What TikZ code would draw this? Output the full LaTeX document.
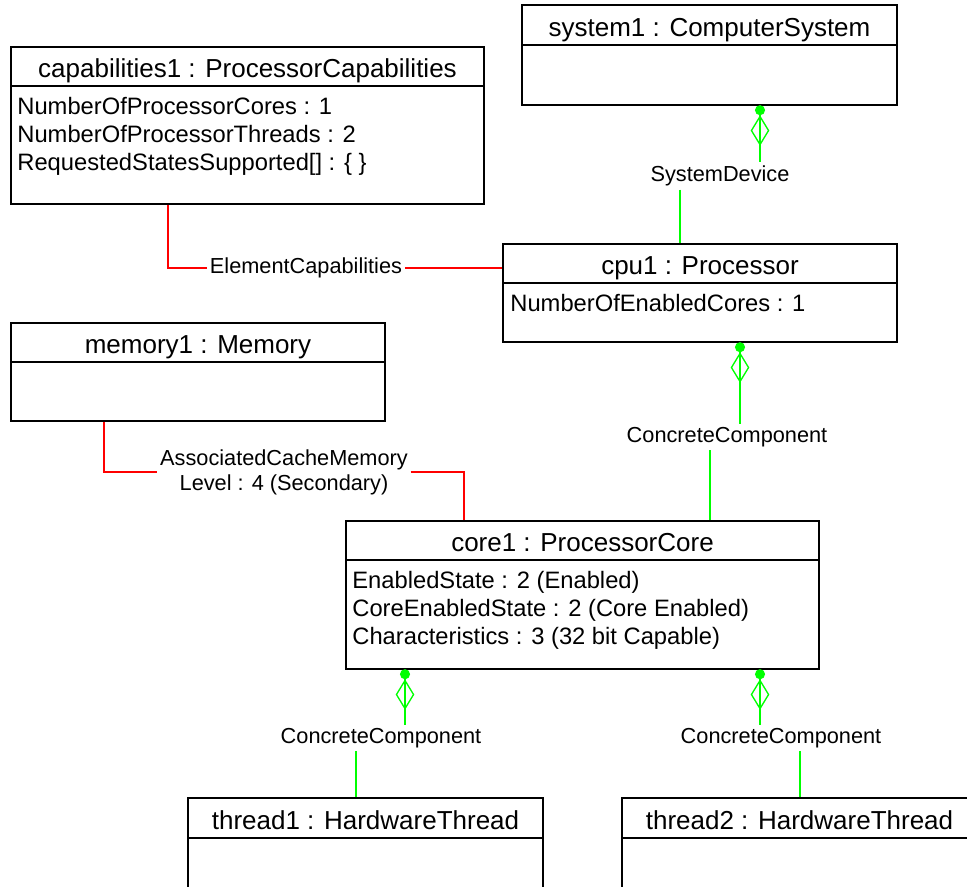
\documentclass[tikz,border=0pt]{standalone}
\usepackage{fontspec}
\setmainfont{Liberation Sans}
\usetikzlibrary{arrows.meta,fit}

\newcommand{\objtitlefont}{\fontsize{19.5pt}{23pt}\selectfont}
\newcommand{\objattrfont}{\fontsize{17.8pt}{21pt}\selectfont}
\newcommand{\linkfont}{\fontsize{16.3pt}{18.75pt}\selectfont}

\begin{document}
\begin{tikzpicture}[x=0.75pt,y=-0.75pt,
        objhead/.style={draw,line width=1.3pt,inner sep=0pt},
        objbody/.style={draw,line width=1.3pt,inner sep=0pt},
        objtitle/.style={anchor=base,inner sep=0pt,font=\objtitlefont},
        objattr/.style={anchor=north west,inner sep=0pt,align=left,font=\objattrfont},
        linklabel/.style={inner xsep=2pt,inner ysep=2.5pt,align=center,font=\linkfont},
        compose/.style={green,line width=1pt,{Circle[length=7.5pt,sep=-0.5pt]Diamond[open,length=23pt,width=14pt]}-},
        compline/.style={green,line width=1pt},
        assoc/.style={red,line width=1pt}]
    \useasboundingbox (0,0) rectangle (967,886);
    \clip (0,0) rectangle (967,886);

    % objects: title part and attribute part
    \node[objhead,fit={(522,5) (897,45)}] (sysh) {};
    \node[objbody,fit={(522,45) (897,105)}] (sysb) {};
    \node[objtitle] (syst) at ([shift={(0,11)}]sysh.center) {system1 : ComputerSystem};

    \node[objhead,fit={(11,47) (484,86)}] (caph) {};
    \node[objbody,fit={(11,86) (484,204)}] (capb) {};
    \node[objtitle] (capt) at ([shift={(0,11)}]caph.center) {capabilities1 : ProcessorCapabilities};
    \node[objattr] (capa) at ([shift={(7,12)}]capb.north west)
        {NumberOfProcessorCores : 1\\NumberOfProcessorThreads : 2\\RequestedStatesSupported[] : \{ \}};

    \node[objhead,fit={(503,244) (897,283)}] (cpuh) {};
    \node[objbody,fit={(503,283) (897,342)}] (cpub) {};
    \node[objtitle] (cput) at ([shift={(0,11)}]cpuh.center) {cpu1 : Processor};
    \node[objattr] (cpua) at ([shift={(8,12)}]cpub.north west) {NumberOfEnabledCores : 1};

    \node[objhead,fit={(11,323) (385,362)}] (memh) {};
    \node[objbody,fit={(11,362) (385,421)}] (memb) {};
    \node[objtitle] (memt) at ([shift={(0,11)}]memh.center) {memory1 : Memory};

    \node[objhead,fit={(346,521) (819,560)}] (coreh) {};
    \node[objbody,fit={(346,560) (819,669)}] (coreb) {};
    \node[objtitle] (coret) at ([shift={(0,11)}]coreh.center) {core1 : ProcessorCore};
    \node[objattr] (corea) at ([shift={(7,12)}]coreb.north west)
        {EnabledState : 2 (Enabled)\\CoreEnabledState : 2 (Core Enabled)\\Characteristics : 3 (32 bit Capable)};

    \node[objhead,fit={(188,798) (543,838)}] (thr1h) {};
    \node[objbody,fit={(188,838) (543,930)}] (thr1b) {};
    \node[objtitle] (thr1t) at ([shift={(0,11)}]thr1h.center) {thread1 : HardwareThread};

    \node[objhead,fit={(622,798) (977,838)}] (thr2h) {};
    \node[objbody,fit={(622,838) (977,930)}] (thr2b) {};
    \node[objtitle] (thr2t) at ([shift={(0,11)}]thr2h.center) {thread2 : HardwareThread};

    % association names
    \node[linklabel] (sysdev) at (720,176) {SystemDevice};
    \node[linklabel] (cpucore) at (727,437) {ConcreteComponent};
    \node[linklabel] (corethr1) at (381,738) {ConcreteComponent};
    \node[linklabel] (corethr2) at (781,738) {ConcreteComponent};
    \node[linklabel] (elemcap) at (306,268) {ElementCapabilities};
    \node[linklabel] (cachemem) at (284,472) {AssociatedCacheMemory\\Level : 4 (Secondary)};

    % aggregations
    \draw[compose] (760,0 |- sysb.south) -- (760,0 |- sysdev.north);
    \draw[compline] (680,0 |- sysdev.south) -- (680,0 |- cpuh.north);
    \draw[compose] (740,0 |- cpub.south) -- (740,0 |- cpucore.north);
    \draw[compline] (710,0 |- cpucore.south) -- (710,0 |- coreh.north);
    \draw[compose] (405,0 |- coreb.south) -- (405,0 |- corethr1.north);
    \draw[compline] (356,0 |- corethr1.south) -- (356,0 |- thr1h.north);
    \draw[compose] (760,0 |- coreb.south) -- (760,0 |- corethr2.north);
    \draw[compline] (800,0 |- corethr2.south) -- (800,0 |- thr2h.north);

    % plain associations
    \draw[assoc] (168,0 |- capb.south) |- (elemcap.west);
    \draw[assoc] (elemcap.east) -- (elemcap.east -| cpuh.west);
    \draw[assoc] (104,0 |- memb.south) |- (cachemem.west);
    \draw[assoc] (cachemem.east) -| (464,0 |- coreh.north);
\end{tikzpicture}
\end{document}
